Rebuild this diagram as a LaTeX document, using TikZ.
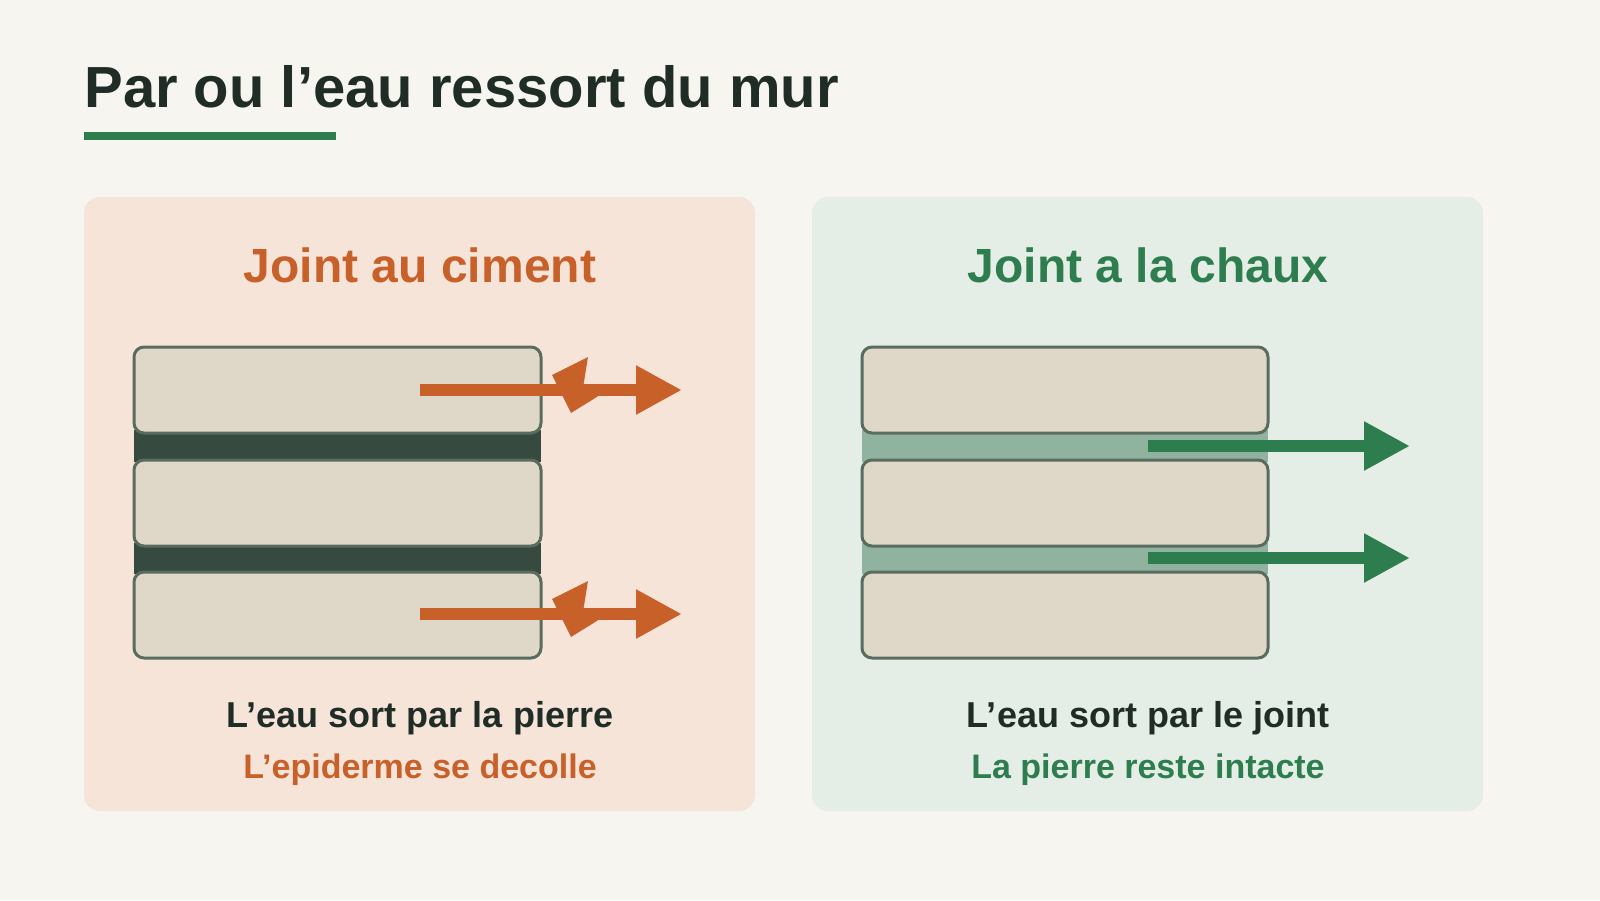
\documentclass[tikz,border=0pt]{standalone}
\usepackage{fontspec}
\setmainfont{Liberation Sans}
\usetikzlibrary{arrows.meta}
\definecolor{bgpaper}{HTML}{F7F5F0}
\definecolor{inkdark}{HTML}{1F2D26}
\definecolor{limegreen}{HTML}{2E7D4F}
\definecolor{cementorange}{HTML}{C8602A}
\definecolor{panelwarm}{HTML}{F7E4D9}
\definecolor{panelcool}{HTML}{E5EEE6}
\definecolor{stonefill}{HTML}{DFD8C8}
\definecolor{stoneedge}{HTML}{5A6B60}
\definecolor{cementjoint}{HTML}{364A40}
\definecolor{limejoint}{HTML}{8FB39E}
\tikzset{
  stone/.style={fill=stonefill,draw=stoneedge,line width=1.5pt,rounded corners=5pt},
  panel/.style={rounded corners=8pt},
  flow/.style={line width=6pt,-{Triangle[length=23pt,width=23pt]}},
  heading/.style={font=\bfseries\fontsize{24}{28}\selectfont},
  caption/.style={font=\bfseries\fontsize{18}{22}\selectfont,text=inkdark},
  subcaption/.style={font=\bfseries\fontsize{17}{20}\selectfont}
}
\begin{document}
\begin{tikzpicture}[x=0.5pt,y=-0.5pt]
\fill[bgpaper] (0,0) rectangle (1600,900);
\useasboundingbox (0,0) rectangle (1600,900);
% title
\node[anchor=base west,inner sep=0,text=inkdark,font=\bfseries\fontsize{29}{34}\selectfont] (title) at (84,107) {Par ou l'eau ressort du mur};
\fill[limegreen] (84,132) rectangle (336,140);
% cement panel
\fill[panelwarm,panel] (84,197) rectangle (755,811);
\node[heading,text=cementorange] (cimenttitle) at (420,265) {Joint au ciment};
\fill[cementjoint] (134,430) rectangle (541,462);
\fill[cementjoint] (134,543) rectangle (541,574);
\foreach \y in {347,460,572}
  \draw[stone] (134,\y) rectangle (541,\y+86);
\foreach \y in {390,614} {
  \coordinate (cstart) at (420,\y);
  \coordinate (cend) at (682,\y);
  \draw[flow,cementorange] (cstart) -- (cend);
  \fill[cementorange] (588,\y-33) -- (583,\y-2) -- (600,\y+5) -- (571,\y+23) -- (552,\y-15) -- cycle;
}
\node[caption] (cimentcap) at (420,718) {L'eau sort par la pierre};
\node[subcaption,text=cementorange] (cimentsub) at (420,770) {L'epiderme se decolle};
% lime panel
\fill[panelcool,panel] (812,197) rectangle (1483,811);
\node[heading,text=limegreen] (chauxtitle) at (1148,265) {Joint a la chaux};
\fill[limejoint] (862,430) rectangle (1268,462);
\fill[limejoint] (862,543) rectangle (1268,574);
\foreach \y in {347,460,572}
  \draw[stone] (862,\y) rectangle (1268,\y+86);
\foreach \y in {446,558} {
  \coordinate (lstart) at (1148,\y);
  \coordinate (lend) at (1410,\y);
  \draw[flow,limegreen] (lstart) -- (lend);
}
\node[caption] (chauxcap) at (1148,718) {L'eau sort par le joint};
\node[subcaption,text=limegreen] (chauxsub) at (1148,770) {La pierre reste intacte};
\end{tikzpicture}
\end{document}
